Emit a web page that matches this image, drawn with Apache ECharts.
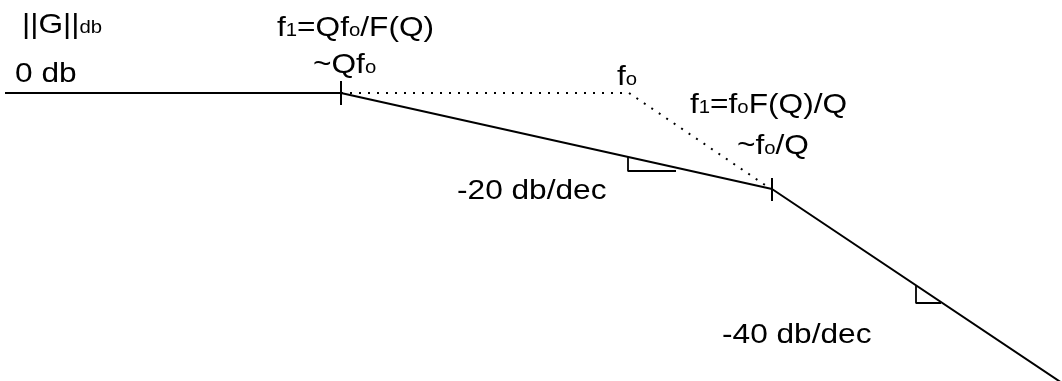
<!DOCTYPE html>
<html><head><meta charset="utf-8">
<style>html,body{margin:0;padding:0;background:#fff}#c{width:1062px;height:381px}</style>
<script src="https://cdn.jsdelivr.net/npm/echarts@6/dist/echarts.min.js"></script>
</head><body><div id="c"></div>
<script>
// x: log-frequency position (arbitrary units), y: gain in dB (arbitrary units, 0 dB at 0)
const asymptote = [[5, 0], [341, 0], [772, -96], [1062, -290]];
const exactCurve = [[341, 0], [629, 0], [768, -94]];
const breakTickA = [[341, 12], [341, -12]];
const breakTickB = [[772, -85], [772, -108]];
const slopeMarkA = [[628, -64], [628, -78], [676, -78]];
const slopeMarkB = [[916, -192], [916, -210], [941, -210]];
// label texts; {...} marks a subscript
const labelTexts = [
  '||G||{db}',
  'f{1}=Qf{o}/F(Q)',
  '~Qf{o}',
  '0 db',
  'f{o}',
  'f{1}=f{o}F(Q)/Q',
  '~f{o}/Q',
  '-20 db/dec',
  '-40 db/dec'
];
// layout: left edge and baseline of each label, in pixels
const labelLayout = [[22, 33], [277, 36], [313, 73], [15, 82], [617, 85], [690, 113], [737, 154], [457, 199], [722, 343]];

const FAMILY = '"Liberation Sans", Arial, sans-serif';
const MAIN_FS = 28, SUB_FS = 18, SCALE_X = 1.13, MID = 0.28;
const mctx = document.createElement('canvas').getContext('2d');
function measure(t, fs) { mctx.font = fs + 'px ' + FAMILY; return mctx.measureText(t).width; }

function buildLabel(str, pos) {
  const parts = [];
  const re = /\{([^}]*)\}|([^{]+)/g;
  let m;
  while ((m = re.exec(str)) !== null) {
    if (m[1] !== undefined) parts.push({t: m[1], sub: true});
    else parts.push({t: m[2], sub: false});
  }
  let cx = 0;
  const children = parts.map(p => {
    const fs = p.sub ? SUB_FS : MAIN_FS;
    const el = {
      type: 'text', x: cx, y: -MID * fs, silent: true,
      style: {text: p.t, fill: '#000', font: fs + 'px ' + FAMILY, lineHeight: fs,
        align: 'left', verticalAlign: 'middle'}
    };
    cx += measure(p.t, fs);
    return el;
  });
  return {type: 'group', x: pos[0], y: pos[1], scaleX: SCALE_X, silent: true, children: children};
}

const chart = echarts.init(document.getElementById('c'), null, {renderer: 'canvas'});
const solid = {color: '#000', width: 2, type: 'solid'};
function poly(data, ls) {
  return {type: 'line', data: data, showSymbol: false, symbol: 'none', silent: true,
    lineStyle: ls, itemStyle: {color: '#000'}, animation: false, clip: true};
}
chart.setOption({
  backgroundColor: '#fff',
  animation: false,
  grid: {left: 0, right: 0, top: 0, bottom: 0},
  xAxis: {type: 'value', min: 0, max: 1062, show: false},
  yAxis: {type: 'value', min: -288, max: 93, show: false},
  series: [
    poly(asymptote, solid),
    poly(exactCurve, {color: '#000', width: 2, type: [2, 7]}),
    poly(breakTickA, solid),
    poly(breakTickB, solid),
    poly(slopeMarkA, {color: '#000', width: 1.8}),
    poly(slopeMarkB, {color: '#000', width: 1.8})
  ],
  graphic: labelTexts.map((t, i) => buildLabel(t, labelLayout[i]))
});
</script></body></html>
